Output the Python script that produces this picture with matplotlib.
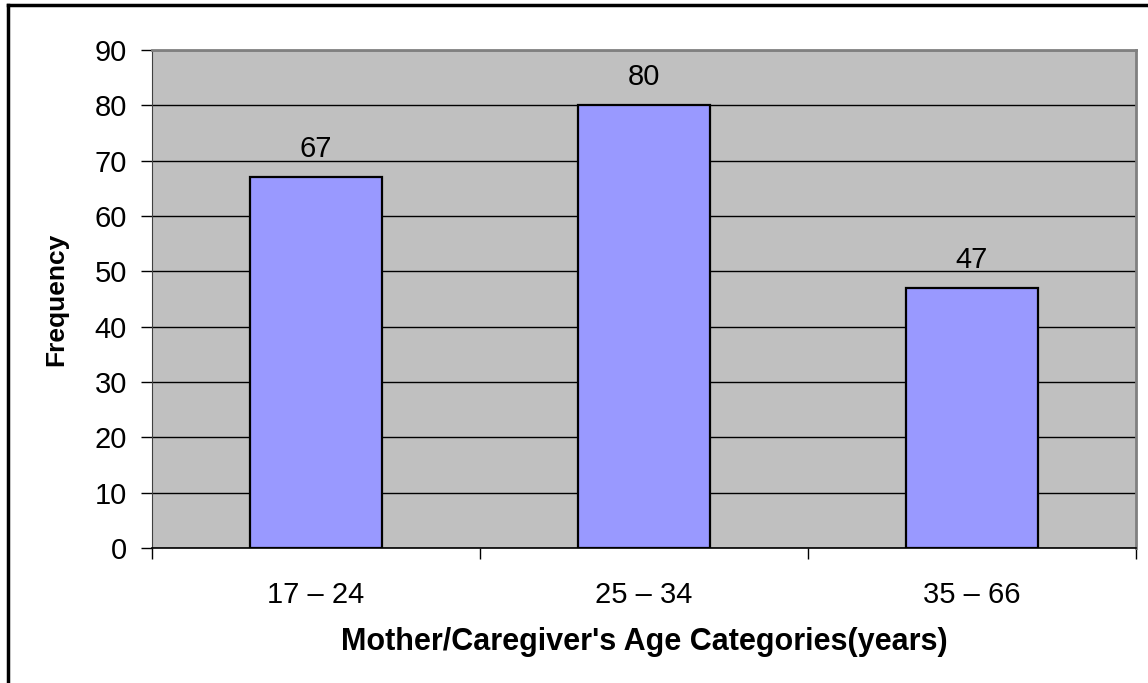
import matplotlib.pyplot as plt
from matplotlib.lines import Line2D

plt.rcParams['font.family'] = ['Liberation Sans', 'DejaVu Sans']

categories = ["17 \u2013 24", "25 \u2013 34", "35 \u2013 66"]
frequency = [67, 80, 47]
y_ticks = [0, 10, 20, 30, 40, 50, 60, 70, 80, 90]

fig = plt.figure(figsize=(11.48, 6.83), dpi=100)
ax = fig.add_axes([152 / 1148, 135 / 683, 984 / 1148, 498 / 683])
ax.set_facecolor('#C0C0C0')

x = range(len(categories))
bars = ax.bar(x, frequency, width=0.4, color='#9999FF', edgecolor='black',
              linewidth=1.6, zorder=3)
for xi, v in zip(x, frequency):
    ax.annotate(str(v), (xi, v), xytext=(0, 10), textcoords='offset points',
                ha='center', va='bottom', fontsize=21)

ax.set_xlim(-0.5, len(categories) - 0.5)
ax.set_ylim(0, 90)
ax.set_yticks(y_ticks)
ax.yaxis.grid(True, color='black', linewidth=1.0, zorder=1)
ax.set_axisbelow(True)

# category boundaries carry the tick marks, labels sit in the middle
ax.set_xticks([i - 0.5 for i in range(len(categories) + 1)])
ax.set_xticklabels([])
ax.set_xticks(list(x), minor=True)
ax.set_xticklabels(categories, minor=True, fontsize=21)
ax.tick_params(axis='x', which='major', direction='out', length=8, width=1)
ax.tick_params(axis='x', which='minor', length=0, pad=24)
ax.tick_params(axis='y', direction='out', length=8, width=1, labelsize=21, pad=10)

for s in ['top', 'right']:
    ax.spines[s].set_color('#808080')
    ax.spines[s].set_linewidth(2)
ax.spines['left'].set_color('#404040')
ax.spines['bottom'].set_color('black')
ax.spines['bottom'].set_linewidth(1.2)

ax.set_xlabel("Mother/Caregiver's Age Categories(years)", fontsize=22,
              fontweight='bold', labelpad=13)
ax.set_ylabel("Frequency", fontsize=19, fontweight='bold', labelpad=19)

# outer frame (left and top only visible)
fig.add_artist(Line2D([8 / 1148, 8 / 1148], [0, 1 - 5 / 683], color='black',
                      linewidth=2.5, transform=fig.transFigure))
fig.add_artist(Line2D([8 / 1148, 1], [1 - 5 / 683, 1 - 5 / 683], color='black',
                      linewidth=2.5, transform=fig.transFigure))

fig.savefig('out.png', dpi=100)
